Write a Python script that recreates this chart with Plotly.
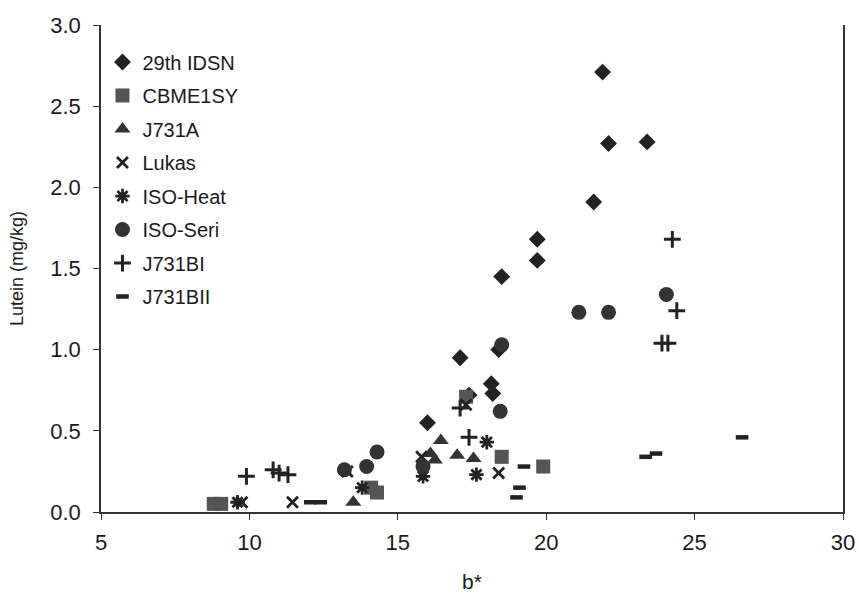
import plotly.graph_objects as go

# 29th IDSN (diamond)
idsn_x = [21.9, 22.1, 23.4, 21.6, 19.7, 19.7, 18.5, 17.1, 18.15, 18.2, 17.4, 16.0, 18.4]
idsn_y = [2.71, 2.27, 2.28, 1.91, 1.68, 1.55, 1.45, 0.95, 0.79, 0.73, 0.72, 0.55, 1.00]
# CBME1SY (square)
cbme_x = [19.9, 18.5, 14.3, 14.1, 8.8, 9.05, 17.3]
cbme_y = [0.28, 0.34, 0.12, 0.15, 0.05, 0.05, 0.71]
# J731A (triangle)
j731a_x = [16.45, 16.1, 16.25, 17.0, 17.55, 13.5]
j731a_y = [0.44, 0.36, 0.32, 0.35, 0.33, 0.06]
# Lukas (x)
lukas_x = [15.8, 18.4, 17.3, 13.3, 11.45, 9.75]
lukas_y = [0.34, 0.24, 0.66, 0.25, 0.06, 0.06]
# ISO-Heat (asterisk)
heat_x = [18.0, 15.85, 17.65, 13.8, 9.6]
heat_y = [0.43, 0.22, 0.23, 0.15, 0.06]
# ISO-Seri (circle)
seri_x = [24.05, 21.1, 22.1, 18.5, 18.45, 14.3, 13.95, 13.2, 15.85]
seri_y = [1.34, 1.23, 1.23, 1.03, 0.62, 0.37, 0.28, 0.26, 0.28]
# J731BI (plus)
bi_x = [24.25, 24.4, 24.1, 23.9, 17.1, 17.4, 9.9, 10.8, 11.0, 11.3]
bi_y = [1.68, 1.24, 1.04, 1.04, 0.64, 0.46, 0.22, 0.26, 0.24, 0.23]
# J731BII (dash)
bii_x = [26.6, 23.7, 23.35, 19.25, 19.1, 19.0, 12.4, 12.05]
bii_y = [0.46, 0.36, 0.34, 0.28, 0.15, 0.09, 0.06, 0.06]

x_ticks = [5, 10, 15, 20, 25, 30]
y_ticks = [0, 0.5, 1.0, 1.5, 2.0, 2.5, 3.0]
y_tick_text = ["0.0", "0.5", "1.0", "1.5", "2.0", "2.5", "3.0"]

series = [
    ("29th IDSN", idsn_x, idsn_y, "diamond", 13, "#222222", 0),
    ("CBME1SY", cbme_x, cbme_y, "square", 14, "#555555", 0),
    ("J731A", j731a_x, j731a_y, "triangle-up", 14, "#333333", 0),
    ("Lukas", lukas_x, lukas_y, "x-thin-open", 11, "#222222", 2.8),
    ("ISO-Heat", heat_x, heat_y, "asterisk-open", 12, "#222222", 2.8),
    ("ISO-Seri", seri_x, seri_y, "circle", 15, "#333333", 0),
    ("J731BI", bi_x, bi_y, "cross-thin-open", 12, "#222222", 3),
    ("J731BII", bii_x, bii_y, "line-ew-open", 9, "#222222", 4.5),
]

fig = go.Figure()
for i, (name, xs, ys, sym, size, col, lw) in enumerate(series):
    marker = dict(symbol=sym, size=size, color=col)
    if lw:
        marker["line"] = dict(color=col, width=lw)
    else:
        marker["line"] = dict(width=0)
    fig.add_trace(go.Scatter(x=xs, y=ys, mode="markers", name=name,
                             marker=marker, legendgroup=f"g{i}"))

font = "Liberation Sans, Arial, sans-serif"
fig.update_layout(
    width=859, height=596,
    margin=dict(l=101, r=16, t=25, b=84),
    paper_bgcolor="white", plot_bgcolor="white",
    font=dict(family=font, color="#1a1a1a"),
    showlegend=True,
    legend=dict(x=0.002, y=0.964, xanchor="left", yanchor="top",
                font=dict(size=20, color="#1a1a1a"),
                tracegroupgap=4.5, bgcolor="rgba(0,0,0,0)",
                itemwidth=30),
    xaxis=dict(range=[5, 30], tickvals=x_ticks,
               showgrid=False, zeroline=False, showline=True, automargin=False,
               linecolor="#333333", linewidth=1.5,
               ticks="outside", ticklen=6, tickcolor="#333333",
               ticklabelstandoff=4,
               tickfont=dict(size=22),
               title=dict(text="b*", font=dict(size=21), standoff=20)),
    yaxis=dict(range=[0, 3.0], tickvals=y_ticks, ticktext=y_tick_text,
               showgrid=False, zeroline=False, showline=True, mirror=True, automargin=False,
               linecolor="#333333", linewidth=1.5,
               ticks="outside", ticklen=6, tickcolor="#333333",
               ticklabelstandoff=8,
               tickfont=dict(size=22),
               title=dict(text="Lutein (mg/kg)", font=dict(size=18), standoff=22)),
)

fig.write_html("out.html",
               config={"displayModeBar": False},
               post_script="document.body.style.margin='0';document.body.style.overflow='hidden';")
